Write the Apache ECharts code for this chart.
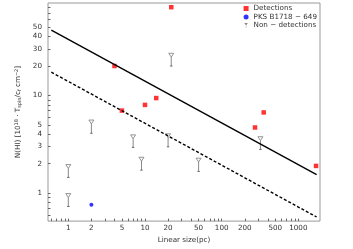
<!DOCTYPE html>
<html><head><meta charset="utf-8">
<script src="https://cdn.jsdelivr.net/npm/echarts@6/dist/echarts.min.js"></script>
<style>html,body{margin:0;padding:0;background:#fff}#c{width:353px;height:249px}</style>
</head><body><div id="c"></div>
<script>
const xTicks = [1, 2, 5, 10, 20, 50, 100, 200, 500, 1000];
const yTicks = [1, 2, 3, 4, 5, 10, 20, 30, 40, 50];
const detX = [22, 4, 14, 10, 5, 272, 353, 1700];
const detY = [80, 20, 9.4, 8, 7, 4.7, 6.7, 1.9];
const pksX = [2];
const pksY = [0.76];
const nonX = [22, 2, 1, 1, 7, 9, 20, 50, 320];
const nonTop = [27, 5.6, 1.96, 0.99, 3.95, 2.33, 4.05, 2.28, 3.78];
const nonBot = [20, 4.1, 1.45, 0.73, 2.94, 1.72, 2.98, 1.67, 2.8];
const fitX = [0.6, 1730];
const solidY = [46.5, 1.55];
const dashedY = [17.3, 0.57];

const L = Math.log10;
function minorVals(lo, hi) {
  const out = [];
  for (let e = -1; e <= 4; e++) for (let m = 1; m <= 9; m++) {
    const v = m * Math.pow(10, e);
    if (v >= lo && v <= hi) out.push(L(v));
  }
  return out;
}
const xMin = -0.265, xMax = 3.282, yMin = -0.286, yMax = 1.946;
const fmt = v => String(Math.round(Math.pow(10, v)));
const chart = echarts.init(document.getElementById('c'), null, {renderer: 'canvas'});
const fontFam = 'DejaVu Sans';
chart.setOption({
  animation: false,
  textStyle: {fontFamily: fontFam},
  grid: {left: 48, right: 33, top: 3, bottom: 22, show: true, borderColor: '#999', borderWidth: 1},
  legend: {
    orient: 'vertical', right: 36, top: 5, padding: 0, itemGap: 1.5,
    itemWidth: 5, itemHeight: 5,
    textStyle: {fontSize: 7.2, color: '#333', fontFamily: fontFam},
    data: [
      {name: 'Detections', icon: 'rect'},
      {name: 'PKS B1718 − 649', icon: 'circle'},
      {name: 'Non − detections', icon: 'path://M0,0 L10,0 L5,7 Z M4.5,7 L5.5,7 L5.5,14 L4.5,14 Z'}
    ]
  },
  xAxis: {
    type: 'value', min: xMin, max: xMax,
    name: 'Linear size(pc)', nameLocation: 'middle', nameGap: 15,
    nameTextStyle: {fontSize: 7.2, color: '#333'},
    axisLine: {show: false, onZero: false},
    splitLine: {show: false},
    axisTick: {show: true, inside: true, length: 2.5, lineStyle: {color: '#666'}, customValues: minorVals(0.54, 1990)},
    axisLabel: {fontSize: 7.2, color: '#333', margin: 4, customValues: xTicks.map(L), formatter: fmt}
  },
  yAxis: {
    type: 'value', min: yMin, max: yMax,
    name: 'N(HI) [10{sup|18} · T{sub|spin}/c{sub|f} cm{sup|−2}]',
    nameLocation: 'middle', nameGap: 20, nameRotate: 90,
    nameTextStyle: {fontSize: 7.2, color: '#333', rich: {sup: {fontSize: 5, verticalAlign: 'top', padding: [0,0,3,0], color: '#333'}, sub: {fontSize: 5, verticalAlign: 'bottom', padding: [3,0,0,0], color: '#333'}}},
    axisLine: {show: false, onZero: false},
    splitLine: {show: false},
    axisTick: {show: true, inside: true, length: 2.5, lineStyle: {color: '#666'}, customValues: minorVals(0.52, 88)},
    axisLabel: {fontSize: 7.2, color: '#333', margin: 6, customValues: yTicks.map(L), formatter: fmt}
  },
  series: [
    {
      name: 'Detections', type: 'scatter', symbol: 'rect', symbolSize: 4.5,
      itemStyle: {color: '#ff0000'},
      data: detX.map((x, i) => [L(x), L(detY[i])])
    },
    {
      name: 'PKS B1718 − 649', type: 'scatter', symbol: 'circle', symbolSize: 4,
      itemStyle: {color: '#0000ff'},
      data: pksX.map((x, i) => [L(x), L(pksY[i])])
    },
    {
      name: 'Non − detections', type: 'custom',
      itemStyle: {color: '#888'},
      encode: {x: 0, y: [1, 2]},
      data: nonX.map((x, i) => [L(x), L(nonTop[i]), L(nonBot[i])]),
      renderItem: function (params, api) {
        const t = api.coord([api.value(0), api.value(1)]);
        const b = api.coord([api.value(0), api.value(2)]);
        const cx = t[0], ty = t[1], by = b[1];
        return {
          type: 'group',
          children: [
            {type: 'line', shape: {x1: cx, y1: ty + 3.5, x2: cx, y2: by}, style: {stroke: '#888', lineWidth: 1}},
            {type: 'line', shape: {x1: cx - 1.2, y1: by, x2: cx + 1.2, y2: by}, style: {stroke: '#666', lineWidth: 1}},
            {type: 'polygon', shape: {points: [[cx - 2.5, ty], [cx + 2.5, ty], [cx, ty + 3.8]]}, style: {fill: '#fff', stroke: '#888', lineWidth: 0.9}}
          ]
        };
      }
    },
    {
      name: 'fit', type: 'line', showSymbol: false, silent: true,
      lineStyle: {color: '#000', width: 1.4},
      data: fitX.map((x, i) => [L(x), L(solidY[i])])
    },
    {
      name: 'fit2', type: 'line', showSymbol: false, silent: true,
      lineStyle: {color: '#000', width: 1.4, type: [3, 2]},
      data: fitX.map((x, i) => [L(x), L(dashedY[i])])
    }
  ]
});
</script></body></html>
